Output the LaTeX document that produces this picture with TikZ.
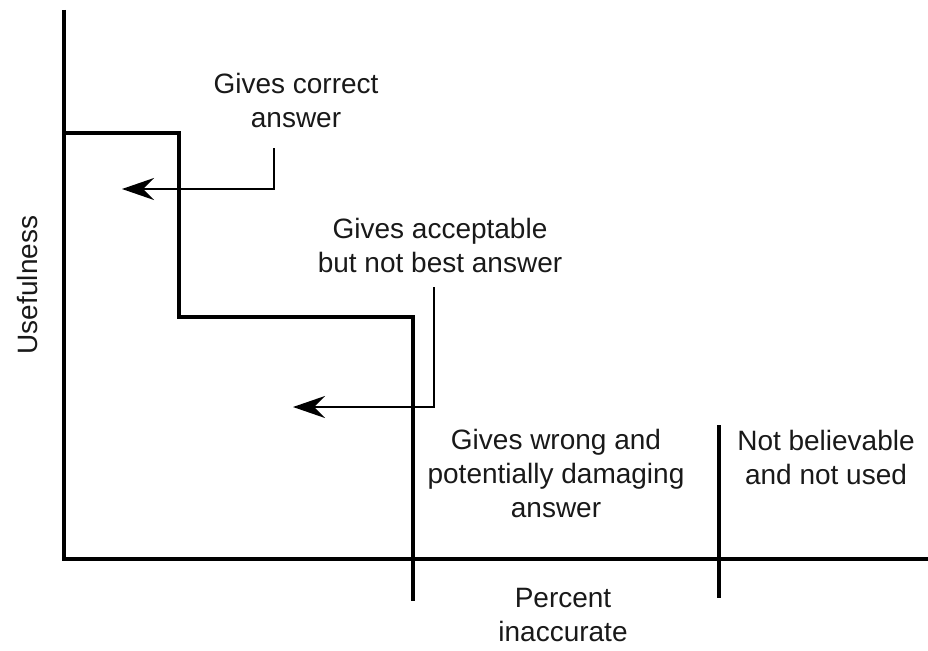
\documentclass[tikz,border=0pt]{standalone}
\usepackage{fontspec}
\setmainfont{Liberation Sans}
\usetikzlibrary{arrows.meta}
\begin{document}
\begin{tikzpicture}[x=1pt,y=-1pt,
  lbl/.style={align=center,inner sep=0pt,font=\fontsize{28}{34}\selectfont,text=black!90},
  heavy/.style={line width=3.2pt,line join=miter},
  lead/.style={line width=2pt,-{Stealth[length=32pt,width=22pt,inset=11pt]}}]
  \useasboundingbox (0,0) rectangle (928,650);
  % axes
  \coordinate (ytop) at (64,10);
  \coordinate (orig) at (64,559);
  \coordinate (xend) at (928,559);
  \draw[heavy] (ytop) -- (orig) -- (xend);
  % usefulness step curve
  \coordinate (s0) at (64,133);
  \coordinate (s1) at (179,133);
  \coordinate (s2) at (179,317);
  \coordinate (s3) at (413,317);
  \coordinate (s4) at (413,601);
  \draw[heavy] (s0) -- (s1) -- (s2) -- (s3) -- (s4);
  % divider between the two right-hand regions
  \coordinate (d0) at (719,425);
  \coordinate (d1) at (719,598);
  \draw[heavy] (d0) -- (d1);
  % labels
  \node[lbl] (correct) at (296,100) {Gives correct\\answer};
  \node[lbl] (accept) at (440,245) {Gives acceptable\\but not best answer};
  \node[lbl] (wrong) at (556,473) {Gives wrong and\\potentially damaging\\answer};
  \node[lbl] (notused) at (826,457) {Not believable\\and not used};
  \node[lbl] (pct) at (563,615) {Percent\\inaccurate};
  \node[lbl,rotate=90] (useful) at (27,285) {Usefulness};
  % leader arrows
  \coordinate (a1s) at (274,148);
  \coordinate (a1c) at (274,189);
  \coordinate (a1t) at (122,189);
  \draw[lead] (a1s) -- (a1c) -- (a1t);
  \coordinate (a2s) at (434,287);
  \coordinate (a2c) at (434,407);
  \coordinate (a2t) at (293,407);
  \draw[lead] (a2s) -- (a2c) -- (a2t);
\end{tikzpicture}
\end{document}
